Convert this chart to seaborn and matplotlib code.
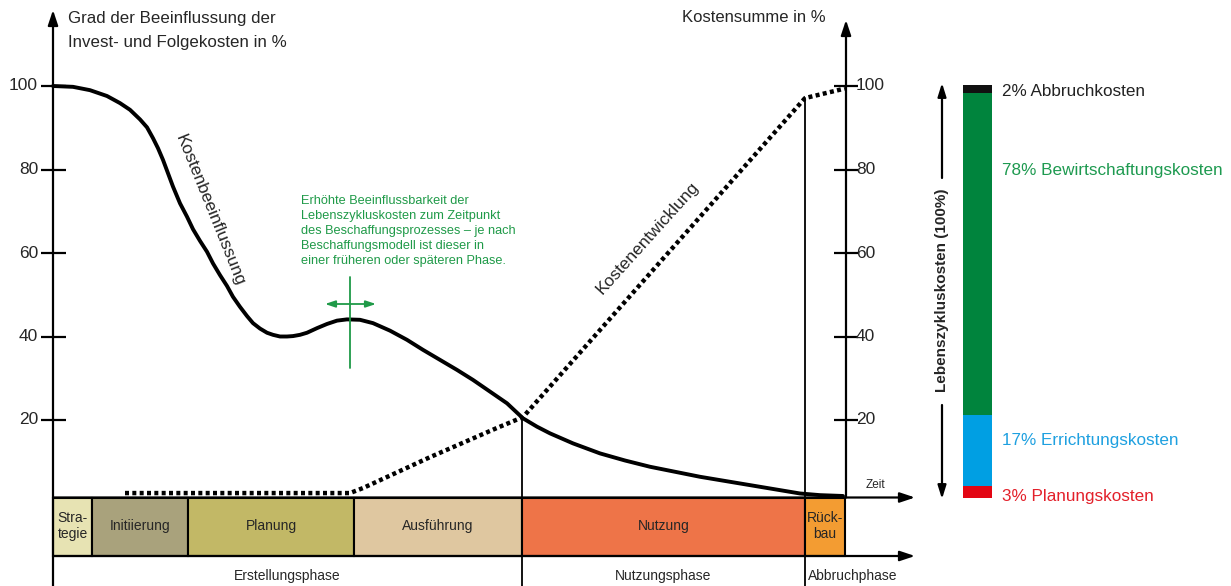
import numpy as np
import matplotlib
matplotlib.use('Agg')
import matplotlib.pyplot as plt
import seaborn as sns

# --- data -----------------------------------------------------------------
# Kostenbeeinflussung curve (time axis in drawing units, value in %)
infl_x = [53, 73, 90, 107, 120, 130, 140, 147, 153, 158,
          163, 168, 173, 180, 187, 193, 200, 207, 213, 220,
          227, 233, 240, 247, 253, 260, 267, 273, 280, 287,
          293, 300, 307, 317, 327, 337, 347, 360, 373, 390,
          407, 423, 440, 457, 473, 490, 507, 523, 537, 550,
          573, 600, 625, 650, 675, 700, 725, 750, 775, 800,
          820, 843]
infl_y = [100.0, 99.8, 99.0, 97.6, 95.9, 94.3, 92.0, 90.1, 87.5, 85.1,
          82.3, 79.1, 75.9, 71.9, 68.7, 65.7, 62.9, 60.3, 57.5, 54.7,
          52.1, 49.5, 47.1, 44.9, 43.2, 41.9, 40.9, 40.4, 40.0, 40.0,
          40.1, 40.4, 40.9, 42.0, 43.0, 43.8, 44.1, 44.0, 43.2, 41.4,
          39.2, 36.8, 34.4, 32.0, 29.6, 26.8, 24.0, 20.4, 18.4, 16.8,
          14.4, 12.0, 10.3, 8.8, 7.6, 6.4, 5.4, 4.4, 3.4, 2.4,
          2.0, 1.8]

# Kostenentwicklung (cumulative cost, %)
cost_x = [125, 350, 363, 430, 497, 523, 805, 845]
cost_y = [2.5, 2.5, 3.7, 11.1, 18.1, 20.7, 97.1, 99.4]

y_ticks = [20, 40, 60, 80, 100]

# project phases (boundaries on the time axis)
phase_names = ['Stra-\ntegie', 'Initiierung', 'Planung', 'Ausführung', 'Nutzung', 'Rück-\nbau']
phase_edges = [53, 92, 188, 354, 522, 805, 845]
phase_colors = ['#e7e3b3', '#a9a27c', '#c2b866', '#dfc7a0', '#ee7448', '#f39c32']

main_phases = ['Erstellungsphase', 'Nutzungsphase', 'Abbruchphase']
main_edges = [53, 522, 805, 900]

# life-cycle cost shares
share_labels = ['3% Planungskosten', '17% Errichtungskosten',
                '78% Bewirtschaftungskosten', '2% Abbruchkosten']
share_values = [3, 17, 78, 2]
share_colors = ['#e30613', '#009fe3', '#00843d', '#111111']
share_text_colors = ['#e3202a', '#1ea0e0', '#1e9a50', '#222222']

GREEN = '#1f9a48'

# --- layout helpers -------------------------------------------------------
Y0, K = 503.5, 4.175          # pixel row of 0 %, pixels per %
def yp(px):
    return (Y0 - px) / K

sns.set_style('white')
plt.rcParams['font.family'] = ['Liberation Sans', 'DejaVu Sans']

fig = plt.figure(figsize=(12.31, 5.86), dpi=100)
ax = fig.add_axes([0, 0, 1, 1])
ax.set_xlim(0, 1231)
ax.set_ylim(yp(586), yp(0))
ax.axis('off')

arrow_kw = dict(arrowstyle='-|>,head_length=0.9,head_width=0.3', lw=1.6,
                color='black', shrinkA=0, shrinkB=0)

# axes arrows
ax.annotate('', xy=(53, yp(10)), xytext=(53, yp(586)), arrowprops=arrow_kw)
ax.annotate('', xy=(846, yp(20)), xytext=(846, yp(497.5)), arrowprops=arrow_kw)
ax.annotate('', xy=(915, yp(497.5)), xytext=(53, yp(497.5)), arrowprops=arrow_kw)
ax.annotate('', xy=(915, yp(556)), xytext=(53, yp(556)), arrowprops=arrow_kw)

# ticks
ax.plot([53] * len(y_ticks), y_ticks, ls='none', marker='_', ms=18, mew=1.6, color='black')
ax.plot([846] * len(y_ticks), y_ticks, ls='none', marker='_', ms=17, mew=1.6, color='black')
for t in y_ticks:
    ax.text(38, t, str(t), ha='right', va='center', fontsize=12.5)
    ax.text(856, t, str(t), ha='left', va='center', fontsize=12.5)

# axis titles
ax.text(68, yp(18), 'Grad der Beeinflussung der', ha='left', va='center', fontsize=12.2)
ax.text(68, yp(42), 'Invest- und Folgekosten in %', ha='left', va='center', fontsize=12.2)
ax.text(826, yp(18), 'Kostensumme in %', ha='right', va='center', fontsize=12)
ax.text(875, yp(485), 'Zeit', ha='center', va='center', fontsize=8.5)

# vertical separators
ax.plot([522, 522], [20, yp(586)], color='black', lw=1.3)
ax.plot([805, 805], [cost_y[6], yp(586)], color='black', lw=1.3)

# curves
sns.lineplot(x=infl_x, y=infl_y, ax=ax, color='black', lw=2.8, sort=False,
             solid_capstyle='round', solid_joinstyle='round')
sns.lineplot(x=cost_x, y=cost_y, ax=ax, color='black', lw=3.2, sort=False,
             linestyle=(0, (0.9, 0.75)), dash_capstyle='butt')

ax.text(210, yp(210), 'Kostenbeeinflussung', rotation=-68, ha='center', va='center',
        fontsize=12.5)
ax.text(648, yp(238), 'Kostenentwicklung', rotation=48, ha='center', va='center',
        fontsize=12.5)

# phase blocks
lefts = phase_edges[:-1]
widths = np.diff(phase_edges)
ax.bar(lefts, yp(497.5) - yp(556), width=widths, bottom=yp(556), align='edge',
       color=phase_colors, edgecolor='black', lw=1.5)
for name, l, w in zip(phase_names, lefts, widths):
    ax.text(l + w / 2, yp(526), name, ha='center', va='center', fontsize=10,
            linespacing=1.15)

# main phases
for name, a, b in zip(main_phases, main_edges[:-1], main_edges[1:]):
    ax.text((a + b) / 2, yp(576), name, ha='center', va='center', fontsize=10)

# green annotation
ax.text(301, yp(231), 'Erhöhte Beeinflussbarkeit der\nLebenszykluskosten zum Zeitpunkt\n'
        'des Beschaffungsprozesses – je nach\nBeschaffungsmodell ist dieser in\n'
        'einer früheren oder späteren Phase.',
        ha='left', va='center', fontsize=9.2, color=GREEN, linespacing=1.35)
ax.plot([350, 350], [yp(277), yp(368)], color=GREEN, lw=1.3)
ax.annotate('', xy=(325, yp(304)), xytext=(376, yp(304)),
            arrowprops=dict(arrowstyle='<|-|>,head_length=0.6,head_width=0.2',
                            lw=1.3, color=GREEN, shrinkA=0, shrinkB=0))

# life-cycle cost bar
scale = 0.99
base = yp(498)
bottoms = base + np.concatenate([[0], np.cumsum(share_values)[:-1]]) * scale
heights = np.array(share_values) * scale
ax.bar([977.5] * len(share_values), heights, width=29, bottom=bottoms,
       color=share_colors, lw=0)
label_rows = [497, 440, 170, 91]
for lab, c, r in zip(share_labels, share_text_colors, label_rows):
    ax.text(1002, yp(r), lab, ha='left', va='center', fontsize=12.3, color=c)

small_arrow = dict(arrowstyle='-|>,head_length=0.8,head_width=0.25', lw=1.6,
                   color='black', shrinkA=0, shrinkB=0)
ax.annotate('', xy=(942, yp(83)), xytext=(942, yp(178)), arrowprops=small_arrow)
ax.annotate('', xy=(942, yp(499)), xytext=(942, yp(405)), arrowprops=small_arrow)
ax.text(942, yp(290), 'Lebenszykluskosten (100%)', rotation=90, ha='center',
        va='center', fontsize=11, fontweight='bold')

fig.savefig('out.png', dpi=100)
